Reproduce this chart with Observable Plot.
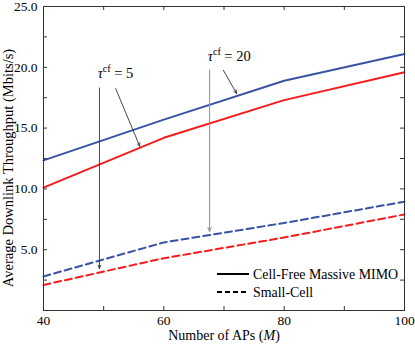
<!DOCTYPE html>
<html><head><meta charset="utf-8">
<script src="https://cdn.jsdelivr.net/npm/d3@7"></script>
<script src="https://cdn.jsdelivr.net/npm/@observablehq/plot@0.6"></script>
<style>body{margin:0;background:#fff} svg{display:block}</style>
</head><body><div id="chart"></div>
<script>
// ---- data ----
const M = [40, 60, 80, 100];
const cellFreeTau20 = [12.35, 15.7, 18.9, 21.1];
const cellFreeTau5 = [10.1, 14.2, 17.3, 19.6];
const smallCellTau20 = [2.8, 5.6, 7.2, 8.95];
const smallCellTau5 = [2.1, 4.3, 6.0, 7.9];
const xTickLabels = [40, 60, 80, 100];
const xTickMarks = [40, 50, 60, 70, 80, 90, 100];
const yTickLabels = [5, 10, 15, 20, 25];
const yTickMarks = [0, 2.5, 5, 7.5, 10, 12.5, 15, 17.5, 20, 22.5, 25];
const tauValues = ["5", "20"];
const tauLabelX = [49.0, 67.3];
const tauLabelY = [19.5, 20.9];
// annotation arrows (data units): tau=5 vertical, tau=5 slanted, tau=20 vertical, tau=20 slanted
const arrowFromX = [49.3, 52.0, 67.6, 69.9];
const arrowFromY = [18.3, 18.25, 19.8, 19.75];
const arrowToX = [49.3, 56.0, 67.6, 72.1];
const arrowToY = [3.45, 13.5, 6.5, 17.85];
const legendLabels = ["Cell-Free Massive MIMO", "Small-Cell"];
const xLabel = "Number of APs (M)";
const yLabel = "Average Downlink Throughput (Mbits/s)";

const FONT = '"Liberation Serif", "Times New Roman", serif';
const BLUE = "#3953a4", RED = "#f41c1c";
const rows = arr => M.map((m, i) => ({m, v: arr[i]}));

const W = 415, H = 346, ML = 43, MR = 11, MT = 6, MB = 36;
const fw = W - ML - MR, fh = H - MT - MB;

const svg = Plot.plot({
  width: W, height: H,
  marginLeft: ML, marginRight: MR, marginTop: MT, marginBottom: MB,
  style: {fontFamily: FONT, fontSize: "13.5px", color: "#000", background: "#fff"},
  x: {domain: [40, 100]},
  y: {domain: [0, 25]},
  marks: [
    Plot.axisY({ticks: yTickLabels, tickSize: 0, tickPadding: 6, tickFormat: d => d.toFixed(1), label: null}),
    Plot.axisX({ticks: xTickLabels, tickSize: 0, tickPadding: 5, label: null}),
    Plot.tickY(yTickMarks, {y: d => d, insetRight: fw - 4, stroke: "#333"}),
    Plot.tickY(yTickMarks, {y: d => d, insetLeft: fw - 4, stroke: "#333"}),
    Plot.tickX(xTickMarks, {x: d => d, insetBottom: fh - 4, stroke: "#333"}),
    Plot.tickX(xTickMarks, {x: d => d, insetTop: fh - 4, stroke: "#333"}),
    Plot.line(rows(smallCellTau5), {x: "m", y: "v", stroke: RED, strokeWidth: 2, strokeDasharray: "7,4"}),
    Plot.line(rows(smallCellTau20), {x: "m", y: "v", stroke: BLUE, strokeWidth: 2, strokeDasharray: "7,4"}),
    Plot.line(rows(cellFreeTau5), {x: "m", y: "v", stroke: RED, strokeWidth: 2}),
    Plot.line(rows(cellFreeTau20), {x: "m", y: "v", stroke: BLUE, strokeWidth: 2}),
    Plot.arrow([0, 1, 3], {x1: i => arrowFromX[i], y1: i => arrowFromY[i], x2: i => arrowToX[i], y2: i => arrowToY[i],
      stroke: "#333", strokeWidth: 0.9, headLength: 6, headAngle: 45}),
    Plot.arrow([2], {x1: i => arrowFromX[i], y1: i => arrowFromY[i], x2: i => arrowToX[i], y2: i => arrowToY[i],
      stroke: "#999", strokeWidth: 1.1, headLength: 6, headAngle: 45}),
    Plot.text([0, 1], {x: i => tauLabelX[i], y: i => tauLabelY[i], text: i => "τcf = " + tauValues[i],
      textAnchor: "start", className: "tau-label", fontSize: 14.5}),
    Plot.text([xLabel], {frameAnchor: "bottom", dy: 29, text: d => d, className: "x-label", fontSize: 14}),
    Plot.frame({stroke: "#333", strokeWidth: 1})
  ]
});

const root = d3.select(svg);
// superscripts / italics
root.selectAll("g.tau-label text").each(function(_, i) {
  const t = d3.select(this);
  t.text(null);
  t.append("tspan").attr("font-style", "italic").text("τ");
  t.append("tspan").attr("font-size", 10).attr("dy", -6).text("cf");
  t.append("tspan").attr("dy", 6).text(" = " + tauValues[i]);
});
root.selectAll("g.x-label text").each(function() {
  const t = d3.select(this);
  t.text(null);
  t.append("tspan").text("Number of APs (");
  t.append("tspan").attr("font-style", "italic").text("M");
  t.append("tspan").text(")");
});

// y-axis title
root.append("text")
  .attr("transform", `translate(8,${MT + fh / 2 + 10}) rotate(-90)`)
  .attr("text-anchor", "middle").attr("dy", "0.35em")
  .attr("font-family", FONT).attr("font-size", "14.5px").attr("fill", "#000")
  .text(yLabel);

// legend inside plot (bottom-right)
const lg = root.append("g").attr("font-family", FONT).attr("font-size", "13.9px").attr("text-anchor", "start");
legendLabels.forEach((lab, i) => {
  const y = 274 + i * 18;
  lg.append("line").attr("x1", 217).attr("x2", 249).attr("y1", y).attr("y2", y)
    .attr("stroke", "#000").attr("stroke-width", 2).attr("stroke-dasharray", i ? "5,3" : null);
  lg.append("text").attr("x", 253).attr("y", y).attr("dy", "0.35em").attr("fill", "#000").text(lab);
});

document.getElementById("chart").appendChild(svg);
</script>
</body></html>
